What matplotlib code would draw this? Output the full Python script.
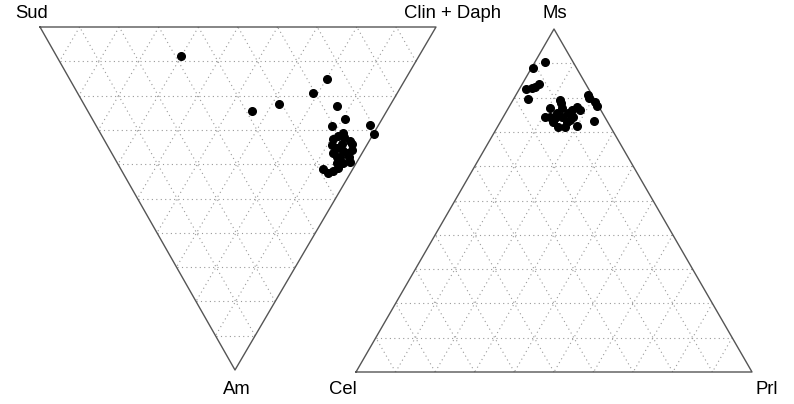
import numpy as np
import matplotlib.pyplot as plt

plt.rcParams['font.family'] = ['Liberation Sans', 'DejaVu Sans']

# linkes Dreieck: Anteile in % (Clin + Daph, Am), Sud = Rest
links_clin = [31.4, 65.0, 59.5, 49.3, 41.5, 63.7, 63.8, 59.5, 69.3, 69.0,
              61.3, 61.0, 57.9, 61.9, 62.0, 56.8, 57.6, 58.7, 59.4, 55.9,
              59.4, 56.3, 57.1, 58.9, 57.0, 55.5, 55.0, 53.3, 51.1, 51.8,
              61.1, 59.5, 59.6]
links_am = [8.5, 15.2, 19.2, 22.4, 24.5, 23.0, 26.8, 28.9, 28.6, 31.2,
            30.9, 32.1, 32.7, 33.2, 34.1, 34.4, 35.3, 36.2, 36.7, 36.7,
            37.9, 37.9, 37.9, 39.4, 39.7, 39.7, 41.1, 42.0, 41.4, 42.6,
            35.9, 34.1, 31.8]

# rechtes Dreieck: Anteile in % (Prl, Ms), Cel = Rest
rechts_prl = [2.5, 0.5, 4.2, 3.7, 3.1, 1.7, 3.6, 18.2, 18.9, 21.0,
              22.1, 23.5, 11.9, 12.6, 10.5, 10.6, 17.2, 18.4, 13.0, 14.8,
              15.8, 17.3, 19.9, 17.1, 15.3, 13.3, 16.8, 17.6, 11.8, 13.2,
              13.5, 16.4]
rechts_ms = [90.4, 88.6, 84.0, 83.1, 82.8, 82.5, 79.6, 80.8, 79.9, 78.7,
             77.6, 73.2, 79.3, 78.4, 77.0, 74.3, 77.3, 76.4, 75.5, 74.3,
             75.5, 73.5, 71.7, 71.4, 71.4, 72.9, 72.9, 74.3, 74.3, 74.1,
             77.0, 76.4]

# Ecken in Bildpunkten (x, y)
L = {'a': (40, 27), 'b': (436, 27), 'c': (235, 370)}   # Sud, Clin+Daph, Am
R = {'a': (356, 372), 'b': (752, 372), 'c': (554, 29)}  # Cel, Prl, Ms


def tern(ecken, b, c):
    b = np.asarray(b) / 100.0
    c = np.asarray(c) / 100.0
    a = 1 - b - c
    x = a * ecken['a'][0] + b * ecken['b'][0] + c * ecken['c'][0]
    y = a * ecken['a'][1] + b * ecken['b'][1] + c * ecken['c'][1]
    return x, y


def dreieck(ax, ecken):
    P = [np.array(ecken[k], float) for k in 'abc']
    # Gitter alle 10 %
    for i in range(1, 10):
        t = i / 10
        for u, v, w in [(0, 1, 2), (1, 2, 0), (2, 0, 1)]:
            p1 = P[u] + t * (P[w] - P[u])
            p2 = P[v] + t * (P[w] - P[v])
            ax.plot([p1[0], p2[0]], [p1[1], p2[1]], color='#999999',
                    ls=(0, (1, 3)), lw=0.8, zorder=1)
    xs = [P[0][0], P[1][0], P[2][0], P[0][0]]
    ys = [P[0][1], P[1][1], P[2][1], P[0][1]]
    ax.plot(xs, ys, color='#555555', lw=1.0, zorder=2)


fig = plt.figure(figsize=(7.94, 4.04), dpi=100)
ax = fig.add_axes([0, 0, 1, 1])
ax.set_xlim(0, 794)
ax.set_ylim(404, 0)
ax.axis('off')

dreieck(ax, L)
dreieck(ax, R)

x, y = tern(L, links_clin, links_am)
ax.plot(x, y, 'o', color='black', ms=5.5, zorder=3)
x, y = tern(R, rechts_prl, rechts_ms)
ax.plot(x, y, 'o', color='black', ms=5.5, zorder=3)

fs = 13.3
ax.text(32, 14, 'Sud', fontsize=fs, ha='center', va='center')
ax.text(453, 14, 'Clin + Daph', fontsize=fs, ha='center', va='center')
ax.text(237, 390, 'Am', fontsize=fs, ha='center', va='center')
ax.text(555, 14, 'Ms', fontsize=fs, ha='center', va='center')
ax.text(343, 390, 'Cel', fontsize=fs, ha='center', va='center')
ax.text(767, 390, 'Prl', fontsize=fs, ha='center', va='center')

plt.savefig('out.png', dpi=100)
